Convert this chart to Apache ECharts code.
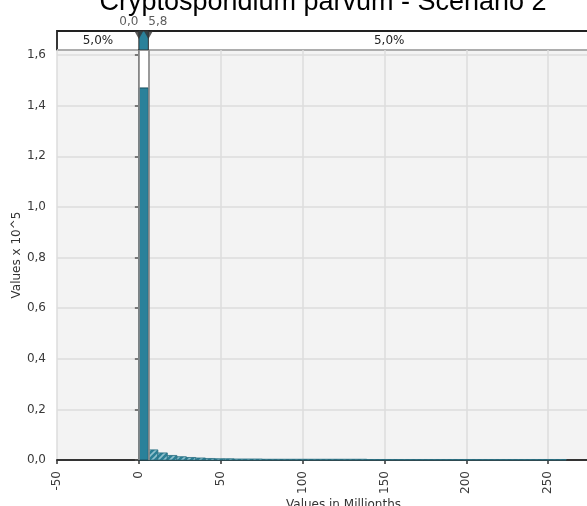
<!DOCTYPE html>
<html>
<head>
<meta charset="utf-8">
<script src="https://cdn.jsdelivr.net/npm/echarts@6/dist/echarts.min.js"></script>
<style>
  html, body { margin: 0; padding: 0; background: #ffffff; overflow: hidden; }
  #chart { width: 587px; height: 506px; }
</style>
</head>
<body>
<div id="chart"></div>
<script>
// Histogram of simulated concentration (values in millionths), density scaled by 10^5
const titleText = 'Cryptosporidium parvum - Scenario 2';
const xAxisName = 'Values in Millionths';
const yAxisName = 'Values x 10^5';

const xMin = -50;
const xMax = 300;
const xStep = 50;
const yMin = 0;
const yMax = 1.62;
const yStep = 0.2;

// Equal-width bins starting at 0
const binStart = 0;
const binWidth = 5.8;
const binValues = [
  1.47, 0.040, 0.028, 0.018, 0.013, 0.010, 0.008, 0.006, 0.005, 0.005,
  0.004, 0.004, 0.004, 0.003, 0.003, 0.003, 0.003, 0.003, 0.003, 0.003,
  0.003, 0.003, 0.003, 0.003, 0.002, 0.002, 0.002, 0.002, 0.002, 0.002,
  0.002, 0.002, 0.002, 0.002, 0.002, 0.002, 0.002, 0.002, 0.002, 0.002,
  0.002, 0.002, 0.002, 0.002, 0.002
];

// Delimiters (left and right 5% tails)
const delimiterValues = [0.0, 5.8];
const delimiterLabels = ['0,0', '5,8'];
const tailLabels = ['5,0%', '5,0%'];

const FONT = 'DejaVu Sans';
const TEAL = '#2a819a';
const TEAL_DARK = '#1b4f5e';

// Diagonal hatch used for the tail bins
function makeHatch() {
  const c = document.createElement('canvas');
  c.width = 6; c.height = 6;
  const g = c.getContext('2d');
  g.fillStyle = '#2c7f95';
  g.fillRect(0, 0, 6, 6);
  g.strokeStyle = '#8fc0cd';
  g.lineWidth = 1.6;
  g.beginPath();
  g.moveTo(-1, 7); g.lineTo(7, -1);
  g.moveTo(-1, 1); g.lineTo(1, -1);
  g.moveTo(5, 7); g.lineTo(7, 5);
  g.stroke();
  return c;
}
const hatch = makeHatch();

const binData = binValues.map((v, i) => [
  binStart + i * binWidth,
  binStart + (i + 1) * binWidth,
  v
]);

const commaFmt = (v, digits) => v.toFixed(digits).replace('.', ',');

const chart = echarts.init(document.getElementById('chart'), null, { renderer: 'canvas' });

chart.setOption({
  animation: false,
  backgroundColor: '#ffffff',
  graphic: [{
    type: 'text',
    x: 323,
    y: 3,
    style: {
      text: titleText,
      font: '27px "Liberation Sans", Arial, sans-serif',
      fill: '#000000',
      align: 'center',
      verticalAlign: 'middle'
    },
    z: 10
  }],
  grid: [
    {
      left: 57, top: 50, width: 573, height: 410,
      outerBoundsMode: 'none',
      show: true, backgroundColor: '#f3f3f3', borderWidth: 0
    },
    {
      left: 57, top: 31, width: 573, height: 19,
      outerBoundsMode: 'none',
      show: true, backgroundColor: '#ffffff', borderColor: '#222222', borderWidth: 1.8
    }
  ],
  xAxis: [
    {
      gridIndex: 0,
      type: 'value',
      min: xMin, max: xMax, interval: xStep,
      name: xAxisName,
      nameLocation: 'middle',
      nameGap: 39,
      nameMoveOverlap: false,
      nameTextStyle: { fontFamily: FONT, fontSize: 12, color: '#333333' },
      axisLine: { show: true, onZero: false, lineStyle: { color: '#333333', width: 2 } },
      axisTick: { show: true, length: 4, lineStyle: { color: '#333333', width: 1.5 } },
      axisLabel: {
        rotate: 90, margin: 11,
        fontFamily: FONT, fontSize: 12, color: '#3a3a3a',
        formatter: v => String(v)
      },
      splitLine: { show: true, lineStyle: { color: '#dcdcdc', width: 1.5 } }
    },
    {
      gridIndex: 1,
      type: 'value',
      min: xMin, max: xMax,
      show: false
    }
  ],
  yAxis: [
    {
      gridIndex: 0,
      type: 'value',
      min: yMin, max: yMax, interval: yStep,
      name: yAxisName,
      nameLocation: 'middle',
      nameRotate: 90,
      nameGap: 34,
      nameMoveOverlap: false,
      nameTextStyle: { fontFamily: FONT, fontSize: 12, color: '#333333' },
      axisLine: { show: true, lineStyle: { color: '#555555', width: 2 } },
      axisTick: { show: true, length: 4, lineStyle: { color: '#555555', width: 1.5 } },
      axisLabel: {
        margin: 11,
        showMaxLabel: false,
        fontFamily: FONT, fontSize: 12, color: '#3a3a3a',
        formatter: v => commaFmt(v, 1)
      },
      splitLine: { show: true, lineStyle: { color: '#dcdcdc', width: 1.5 } }
    },
    {
      gridIndex: 1,
      type: 'value',
      min: 0, max: 1,
      show: false
    }
  ],
  series: [
    // Histogram bins
    {
      type: 'custom',
      xAxisIndex: 0,
      yAxisIndex: 0,
      z: 3,
      data: binData,
      encode: { x: [0, 1], y: 2 },
      renderItem: (params, api) => {
        const x0 = api.value(0), x1 = api.value(1), v = api.value(2);
        const pTop = api.coord([x0, v]);
        const pBot = api.coord([x1, 0]);
        const main = params.dataIndex === 0;
        return {
          type: 'rect',
          shape: {
            x: pTop[0], y: pTop[1],
            width: pBot[0] - pTop[0],
            height: pBot[1] - pTop[1]
          },
          style: main
            ? { fill: TEAL, stroke: TEAL_DARK, lineWidth: 1 }
            : { fill: { image: hatch, repeat: 'repeat' }, stroke: '#2a6f82', lineWidth: 0.8 }
        };
      }
    },
    // Central region highlight and delimiter lines in the plot
    {
      type: 'line',
      xAxisIndex: 0,
      yAxisIndex: 0,
      data: [[delimiterValues[0], 0]],
      symbol: 'none',
      lineStyle: { opacity: 0 },
      silent: true,
      markArea: {
        silent: true,
        itemStyle: { color: '#ffffff' },
        data: [[{ xAxis: delimiterValues[0] }, { xAxis: delimiterValues[1] }]]
      },
      markLine: {
        silent: true,
        symbol: ['none', 'none'],
        label: { show: false },
        lineStyle: { color: '#8a8a8a', width: 2, type: 'solid', opacity: 0.85 },
        data: delimiterValues.map(v => ({ xAxis: v }))
      }
    },
    // Delimiter band above the plot
    {
      type: 'scatter',
      xAxisIndex: 1,
      yAxisIndex: 1,
      z: 5,
      symbol: 'triangle',
      symbolRotate: 180,
      symbolSize: [9, 8],
      symbolOffset: [0, 4],
      itemStyle: { color: '#333333' },
      data: delimiterValues.map((v, i) => ({
        value: [v, 1],
        label: {
          show: true,
          position: 'top',
          distance: 3,
          offset: [i === 0 ? -10 : 9.5, 0],
          formatter: delimiterLabels[i],
          fontFamily: FONT, fontSize: 12, color: '#333333'
        }
      })),
      markArea: {
        silent: true,
        label: {
          show: true, position: 'inside',
          fontFamily: FONT, fontSize: 12, color: '#222222'
        },
        data: [
          [{ xAxis: xMin, name: tailLabels[0], itemStyle: { color: 'rgba(0,0,0,0)' } }, { xAxis: delimiterValues[0] }],
          [{ xAxis: delimiterValues[0], name: '', itemStyle: { color: TEAL, borderColor: '#333333', borderWidth: 1 } }, { xAxis: delimiterValues[1] }],
          [{ xAxis: delimiterValues[1], name: tailLabels[1], itemStyle: { color: 'rgba(0,0,0,0)' } }, { xAxis: xMax }]
        ]
      }
    }
  ]
});
</script>
</body>
</html>
